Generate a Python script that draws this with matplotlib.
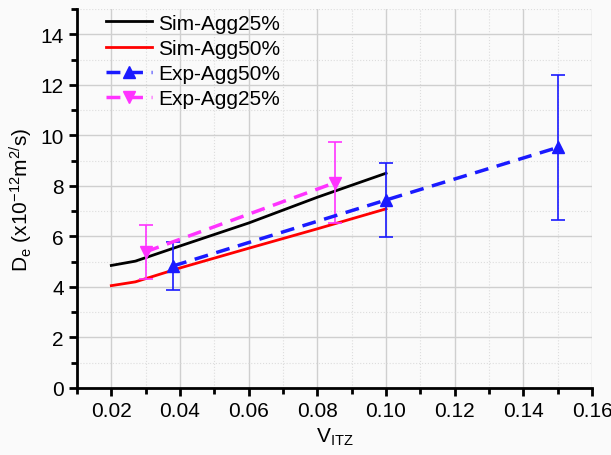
import matplotlib.pyplot as plt
from matplotlib.lines import Line2D
from matplotlib.ticker import MultipleLocator, FormatStrFormatter

plt.rcParams['font.family'] = ['Liberation Sans', 'DejaVu Sans']
plt.rcParams['mathtext.fontset'] = 'custom'
plt.rcParams['mathtext.rm'] = 'Liberation Sans'
plt.rcParams['mathtext.it'] = 'Liberation Sans'

# simulated curves
sim_x = [0.02, 0.027, 0.04, 0.06, 0.08, 0.10]
sim25 = [4.85, 5.02, 5.62, 6.53, 7.55, 8.5]
sim50 = [4.05, 4.2, 4.75, 5.53, 6.3, 7.09]

# experiments
exp50_x = [0.038, 0.10, 0.15]
exp50_y = [4.83, 7.44, 9.52]
exp50_err = [0.95, 1.47, 2.86]

exp25_x = [0.03, 0.085]
exp25_y = [5.39, 8.12]
exp25_err = [1.08, 1.6]

blue = '#1a1aff'
pink = '#ff33ff'
dash = (0, (4, 2.5))

fig = plt.figure(figsize=(6.11, 4.56), dpi=100)
fig.patch.set_facecolor('#fafafa')
ax = fig.add_axes([0.126, 0.147, 0.843, 0.831])
ax.set_facecolor('#fafafa')

ax.plot(sim_x, sim25, color='black', lw=2)
ax.plot(sim_x, sim50, color='red', lw=2)
ax.errorbar(exp50_x, exp50_y, yerr=exp50_err, color=blue, lw=2.5,
            ls=dash, marker='^', ms=9, elinewidth=1.2, capsize=5, capthick=1.2)
ax.errorbar(exp25_x, exp25_y, yerr=exp25_err, color=pink, lw=2.5,
            ls=dash, marker='v', ms=9, elinewidth=1.2, capsize=5, capthick=1.2)

ax.set_xlim(0.01, 0.16)
ax.set_ylim(0, 15)
ax.xaxis.set_major_locator(MultipleLocator(0.02))
ax.xaxis.set_minor_locator(MultipleLocator(0.01))
ax.xaxis.set_major_formatter(FormatStrFormatter('%.2f'))
ax.yaxis.set_major_locator(MultipleLocator(2))
ax.yaxis.set_minor_locator(MultipleLocator(1))

ax.grid(which='major', color='#cfcfcf', lw=1)
ax.grid(which='minor', color='#dddddd', lw=0.8, ls=':')
ax.set_axisbelow(True)

for s in ['top', 'right']:
    ax.spines[s].set_visible(False)
for s in ['left', 'bottom']:
    ax.spines[s].set_linewidth(2)

ax.tick_params(which='major', direction='out', length=6, width=2, labelsize=15)
ax.tick_params(which='minor', direction='out', length=4, width=2)

ax.set_xlabel('V$_{\\mathregular{ITZ}}$', fontsize=15)
ax.set_ylabel('D$_{\\mathregular{e}}$ (x10$^{\\mathregular{-12}}$m$^{\\mathregular{2/}}$s)', fontsize=15)

handles = [
    Line2D([], [], color='black', lw=2),
    Line2D([], [], color='red', lw=2),
    Line2D([], [], color=blue, lw=2.5, ls=dash, marker='^', ms=9),
    Line2D([], [], color=pink, lw=2.5, ls=dash, marker='v', ms=9),
]
labels = ['Sim-Agg25%', 'Sim-Agg50%', 'Exp-Agg50%', 'Exp-Agg25%']
ax.legend(handles, labels, loc='upper left', frameon=False, fontsize=15,
          handlelength=2.2, handletextpad=0.3, labelspacing=0.3,
          borderaxespad=0.0, bbox_to_anchor=(0.04, 1.01))

fig.savefig('out.png', dpi=100, facecolor=fig.get_facecolor())
